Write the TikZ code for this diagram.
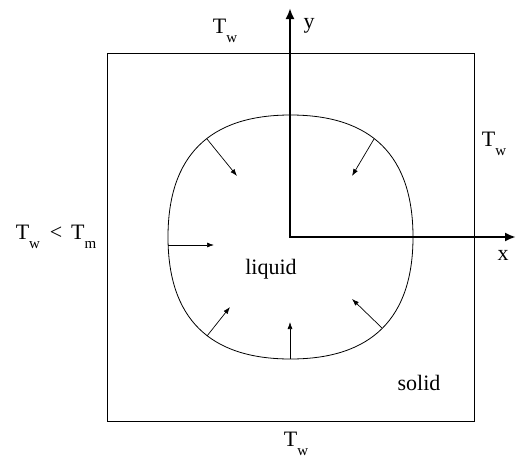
\documentclass[tikz,border=0pt]{standalone}
\usepackage{fontspec}
\setmainfont{Liberation Serif}
\usetikzlibrary{arrows.meta}
\newcommand\lowsub[1]{\raisebox{-0.38em}{\fontsize{15}{15}\selectfont #1}}
\begin{document}
\begin{tikzpicture}[x=1pt,y=-1pt,
  lbl/.style={inner sep=0pt, font=\fontsize{22}{24}\selectfont},
  flux/.style={-{Latex[length=7pt,width=5pt]}, line width=0.7pt},
  axisline/.style={{Latex[length=11pt,width=9pt]}-{Latex[length=11pt,width=9pt]}, line width=2.6pt, line join=miter}]
\useasboundingbox (0,0) rectangle (516,463);
% outer box
\draw[line width=1pt] (107,53) rectangle (474,421);
% axes
\coordinate (O) at (290,237);
\coordinate (ytip) at (290,8);
\coordinate (xtip) at (516,237);
\draw[axisline] (ytip) -- (O) -- (xtip);
% interface curve
\coordinate (T) at (290.5,115);
\coordinate (R) at (413,237);
\coordinate (B) at (290.5,359);
\coordinate (L) at (168,237);
\draw[line width=0.8pt] (T) .. controls +(81.3,0) and +(0,-81) .. (R)
  .. controls +(0,81) and +(81.3,0) .. (B)
  .. controls +(-81.3,0) and +(0,81) .. (L)
  .. controls +(0,-81) and +(-81.3,0) .. (T) -- cycle;
% flux arrows
\coordinate (s1) at (207,139); \coordinate (e1) at (237,176);
\coordinate (s2) at (374,139); \coordinate (e2) at (352,176);
\coordinate (s3) at (168,245); \coordinate (e3) at (214,245);
\coordinate (s4) at (207,336); \coordinate (e4) at (230,307);
\coordinate (s5) at (290,359); \coordinate (e5) at (290,322);
\coordinate (s6) at (382,328); \coordinate (e6) at (352,299);
\foreach \i in {1,...,6} \draw[flux] (s\i) -- (e\i);
% labels
\node[lbl] (twtop) at (225,31) {T\lowsub{w}};
\node[lbl] (ylab) at (309,26) {y};
\node[lbl] (twright) at (494,144) {T\lowsub{w}};
\node[lbl] (twleft) at (56,237) {T\lowsub{w}\hspace{0.45em}<\hspace{0.4em}T\lowsub{m}};
\node[lbl] (xlab) at (503,255) {x};
\node[lbl] (liquid) at (271,269) {liquid};
\node[lbl] (solid) at (419,383) {solid};
\node[lbl] (twbot) at (296,444) {T\lowsub{w}};
\end{tikzpicture}
\end{document}
